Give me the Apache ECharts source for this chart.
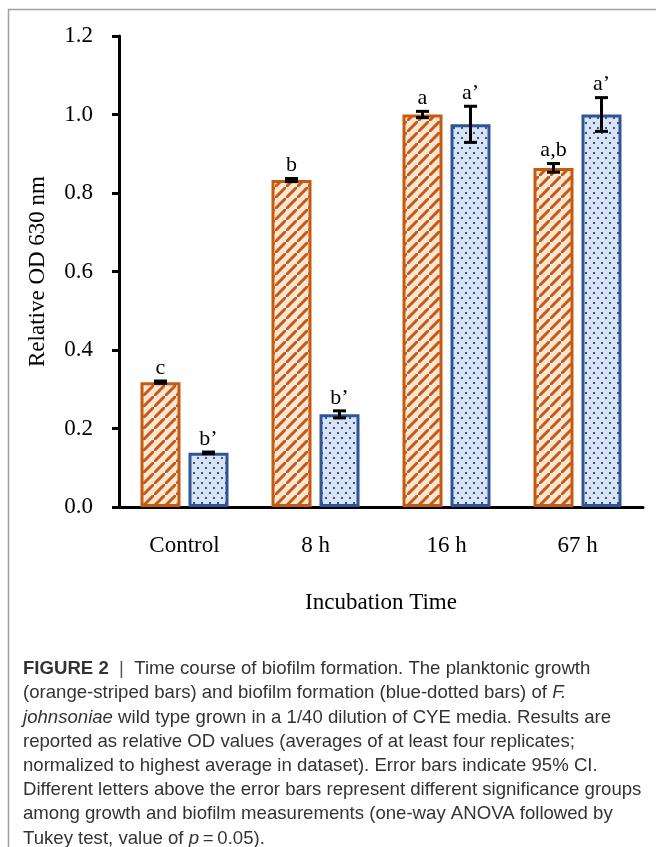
<!DOCTYPE html>
<html>
<head>
<meta charset="utf-8">
<script src="https://cdn.jsdelivr.net/npm/echarts@6/dist/echarts.min.js"></script>
<style>
  html, body { margin: 0; padding: 0; background: #fff; }
  #chart { width: 656px; height: 847px; }
</style>
</head>
<body>
<div id="chart"></div>
<script>
const categories = ['Control', '8 h', '16 h', '67 h'];
const growthValues = [0.318, 0.833, 1.000, 0.864];
const growthErrors = [0.003, 0.004, 0.008, 0.011];
const growthLetters = ['c', 'b', 'a', 'a,b'];
const biofilmValues = [0.138, 0.236, 0.975, 1.000];
const biofilmErrors = [0.002, 0.009, 0.046, 0.043];
const biofilmLetters = ['b\u2019', 'b\u2019', 'a\u2019', 'a\u2019'];

const captionLines = [
    '{b|FIGURE 2}  {sep||}  Time course of biofilm formation. The planktonic growth',
    '(orange-striped bars) and biofilm formation (blue-dotted bars) of {i|F.}',
    '{i|johnsoniae} wild type grown in a 1/40 dilution of CYE media. Results are',
    'reported as relative OD values (averages of at least four replicates;',
    'normalized to highest average in dataset). Error bars indicate 95% CI.',
    'Different letters above the error bars represent different significance groups',
    'among growth and biofilm measurements (one-way ANOVA followed by',
    'Tukey test, value of {i|p}\u2009=\u20090.05).'
];

const ORANGE = '#c55a11';
const ORANGE_FILL = '#fbe5d6';
const BLUE = '#2f5597';
const BLUE_FILL = '#dae3f3';
const SERIF = '"Liberation Serif", "DejaVu Serif", serif';
const SANS = '"Liberation Sans", Arial, sans-serif';
const BAR_W = 40;
const BAR_GAP = 0.2;
const CAP_SIZE = 18.6;
const CAP_LH = 24.2;

function stripeTile() {
    const n = 11;
    const c = document.createElement('canvas');
    c.width = n; c.height = n;
    const ctx = c.getContext('2d');
    ctx.fillStyle = ORANGE_FILL;
    ctx.fillRect(0, 0, n, n);
    ctx.strokeStyle = ORANGE;
    ctx.lineWidth = 3;
    ctx.beginPath();
    ctx.moveTo(-3, n + 3); ctx.lineTo(n + 3, -3);
    ctx.moveTo(-n - 3, 3); ctx.lineTo(3, -n - 3);
    ctx.moveTo(n - 3, 2 * n + 3); ctx.lineTo(2 * n + 3, n - 3);
    ctx.stroke();
    return c;
}

function dotTile() {
    const c = document.createElement('canvas');
    c.width = 8; c.height = 10;
    const ctx = c.getContext('2d');
    ctx.fillStyle = BLUE_FILL;
    ctx.fillRect(0, 0, 8, 10);
    ctx.fillStyle = BLUE;
    ctx.fillRect(1, 2, 2, 2);
    ctx.fillRect(5, 7, 2, 2);
    return c;
}

function errorSeries(values, errors, letters, offset) {
    return {
        type: 'custom',
        z: 10,
        encode: { x: 0, y: [1, 2] },
        data: values.map((v, i) => [i, v - errors[i], v + errors[i]]),
        renderItem: (params, api) => {
            const lo = api.coord([api.value(0), api.value(1)]);
            const hi = api.coord([api.value(0), api.value(2)]);
            const x = lo[0] + offset;
            const cap = 6.5;
            const st = { stroke: '#000', lineWidth: 3 };
            return {
                type: 'group',
                children: [
                    { type: 'line', shape: { x1: x, y1: hi[1], x2: x, y2: lo[1] }, style: st },
                    { type: 'line', shape: { x1: x - cap, y1: hi[1], x2: x + cap, y2: hi[1] }, style: st },
                    { type: 'line', shape: { x1: x - cap, y1: lo[1], x2: x + cap, y2: lo[1] }, style: st },
                    {
                        type: 'text', x: x, y: hi[1] - 2,
                        style: {
                            text: letters[params.dataIndex], fill: '#000',
                            font: '22px ' + SERIF, align: 'center', verticalAlign: 'bottom'
                        }
                    }
                ]
            };
        }
    };
}

const chart = echarts.init(document.getElementById('chart'));
const half = BAR_W * (1 + BAR_GAP) / 2;

chart.setOption({
    animation: false,
    grid: { left: 119, right: 13, top: 36, bottom: 340 },
    xAxis: {
        type: 'category',
        data: categories,
        axisLine: { lineStyle: { color: '#000', width: 3 } },
        axisTick: { alignWithLabel: true, length: 5, lineStyle: { color: '#000', width: 3 } },
        axisLabel: { color: '#000', fontFamily: SERIF, fontSize: 23, margin: 27 },
        name: 'Incubation Time',
        nameLocation: 'middle',
        nameGap: 84,
        nameTextStyle: { color: '#000', fontFamily: SERIF, fontSize: 23 }
    },
    yAxis: {
        type: 'value',
        min: 0, max: 1.2, interval: 0.2,
        splitLine: { show: false },
        axisLine: { show: true, lineStyle: { color: '#000', width: 3 } },
        axisTick: { show: true, length: 7, lineStyle: { color: '#000', width: 3 } },
        axisLabel: { color: '#000', fontFamily: SERIF, fontSize: 23, margin: 26, formatter: v => v.toFixed(1) },
        name: 'Relative OD 630 nm',
        nameLocation: 'middle',
        nameGap: 70,
        nameTextStyle: { color: '#000', fontFamily: SERIF, fontSize: 23 }
    },
    series: [
        {
            type: 'bar',
            data: growthValues,
            barWidth: BAR_W,
            barGap: (BAR_GAP * 100) + '%',
            itemStyle: { color: { image: stripeTile(), repeat: 'repeat' }, borderColor: ORANGE, borderWidth: 3 }
        },
        {
            type: 'bar',
            data: biofilmValues,
            barWidth: BAR_W,
            itemStyle: { color: { image: dotTile(), repeat: 'repeat' }, borderColor: BLUE, borderWidth: 3 }
        },
        errorSeries(growthValues, growthErrors, growthLetters, -half),
        errorSeries(biofilmValues, biofilmErrors, biofilmLetters, half)
    ],
    graphic: [
        {
            type: 'rect',
            shape: { x: 8.5, y: 9.5, width: 700, height: 900 },
            style: { fill: 'none', stroke: '#a0a0a0', lineWidth: 1.5 },
            silent: true
        },
        {
            type: 'text',
            left: 23, top: 657,
            style: {
                text: captionLines.join('\n'),
                fill: '#333',
                font: CAP_SIZE + 'px ' + SANS,
                lineHeight: CAP_LH,
                rich: {
                    b: { fontWeight: 'bold', fontSize: CAP_SIZE, fontFamily: SANS, fill: '#333', lineHeight: CAP_LH },
                    sep: { fontSize: CAP_SIZE, fontFamily: SANS, fill: '#555', lineHeight: CAP_LH },
                    i: { fontStyle: 'italic', fontSize: CAP_SIZE, fontFamily: SANS, fill: '#333', lineHeight: CAP_LH }
                }
            }
        }
    ]
});
</script>
</body>
</html>
